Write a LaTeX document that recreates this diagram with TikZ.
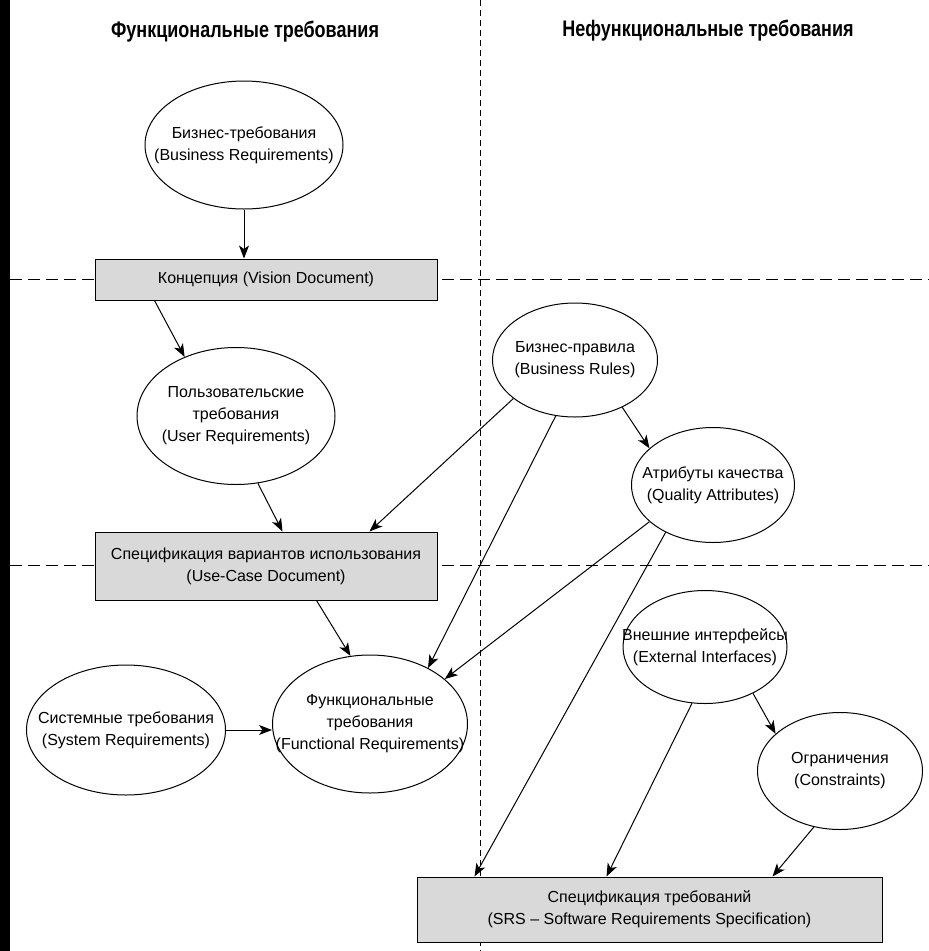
\documentclass[tikz,border=0pt]{standalone}
\usepackage{fontspec}
\setmainfont{Liberation Sans}
\newfontfamily\headfont[FakeStretch=0.8]{Liberation Sans}
\usetikzlibrary{arrows.meta, positioning, shapes.geometric}

\tikzstyle{reqnode} = [ellipse, draw=black, line width=1pt, fill=white, inner sep=-30pt, align=center, font=\fontsize{16}{22}\selectfont]
\tikzstyle{docbox}  = [rectangle, draw=black, line width=1pt, fill=gray!30, inner sep=0pt, align=center, font=\fontsize{16}{22}\selectfont]
\tikzstyle{heading} = [font=\headfont\bfseries\fontsize{22.5}{26}\selectfont]
\tikzstyle{arrow}   = [line width=1pt, -{Stealth[length=13pt, width=10pt, inset=3.5pt]}]
\tikzstyle{divider} = [line width=1pt, dash pattern=on 12pt off 6pt]
\tikzstyle{vdivider} = [line width=1pt, dash pattern=on 6pt off 4pt]

\begin{document}
\begin{tikzpicture}[x=1pt, y=-1pt, node distance=120pt]
\useasboundingbox (0,0) rectangle (929,951);
\fill[black] (0,0) rectangle (10,951);

% dividers
\draw [vdivider] (480,0) -- (480,951);
\draw [divider] (10,279) -- (929,279);
\draw [divider] (10,565) -- (929,565);

\node (lefthead) [heading] at (245,32) {Функциональные требования};
\node (righthead) [heading] at (708,31) {Нефункциональные требования};

\node (busreq) [reqnode, minimum width=198pt, minimum height=128pt] at (244,145) {Бизнес-требования\\(Business Requirements)};
\node (vision) [docbox, minimum width=342pt, minimum height=41pt, below of=busreq, xshift=22pt, yshift=-14.5pt] {Концепция (Vision Document)};
\node (userreq) [reqnode, minimum width=198pt, minimum height=137pt, below of=vision, xshift=-30pt, yshift=-16.5pt] {Пользовательские\\требования\\(User Requirements)};
\node (usecase) [docbox, minimum width=342pt, minimum height=68pt, below of=userreq, xshift=30pt, yshift=-30pt] {Спецификация вариантов использования\\(Use-Case Document)};
\node (funcreq) [reqnode, minimum width=195pt, minimum height=138pt, below of=usecase, xshift=104pt, yshift=-38pt] {Функциональные\\требования\\(Functional Requirements)};
\node (sysreq) [reqnode, minimum width=199pt, minimum height=130pt, left of=funcreq, xshift=-124pt, yshift=-6pt] {Системные требования\\(System Requirements)};

\node (busrules) [reqnode, minimum width=165pt, minimum height=114pt] at (575,360) {Бизнес-правила\\(Business Rules)};
\node (quality) [reqnode, minimum width=163pt, minimum height=115pt, below of=busrules, xshift=138pt, yshift=-5pt] {Атрибуты качества\\(Quality Attributes)};
\node (extif) [reqnode, minimum width=164pt, minimum height=113pt, below of=quality, xshift=-8pt, yshift=-42pt] {Внешние интерфейсы\\(External Interfaces)};
\node (constr) [reqnode, minimum width=165pt, minimum height=117pt, below of=extif, xshift=135pt, yshift=-4pt] {Ограничения\\(Constraints)};
\node (srs) [docbox, minimum width=465pt, minimum height=65pt, below of=constr, xshift=-190.5pt, yshift=-18.5pt] {Спецификация требований\\(SRS – Software Requirements Specification)};

\draw [arrow] (busreq.south) -- (busreq.south |- vision.north);
\draw [arrow] ([xshift=60pt]vision.south west) -- (userreq.131);
\draw [arrow] (userreq.-72) -- ([xshift=188pt]usecase.north west);
\draw [arrow] (busrules.212) -- ([xshift=275pt]usecase.north west);
\draw [arrow] ([xshift=222pt]usecase.south west) -- (funcreq.106);
\draw [arrow] (sysreq.east) -- (sysreq.east -| funcreq.west);
\draw [arrow] (busrules.251) -- (funcreq.44);
\draw [arrow] (quality.210) -- (funcreq.31);
\draw [arrow] (busrules.-45) -- (quality.150);
\draw [arrow] (quality.225) -- ([xshift=58pt]srs.north west);
\draw [arrow] (extif.-44) -- (constr.150);
\draw [arrow] (extif.257) -- ([xshift=190pt]srs.north west);
\draw [arrow] (constr.-115) -- ([xshift=356pt]srs.north west);
\end{tikzpicture}
\end{document}
